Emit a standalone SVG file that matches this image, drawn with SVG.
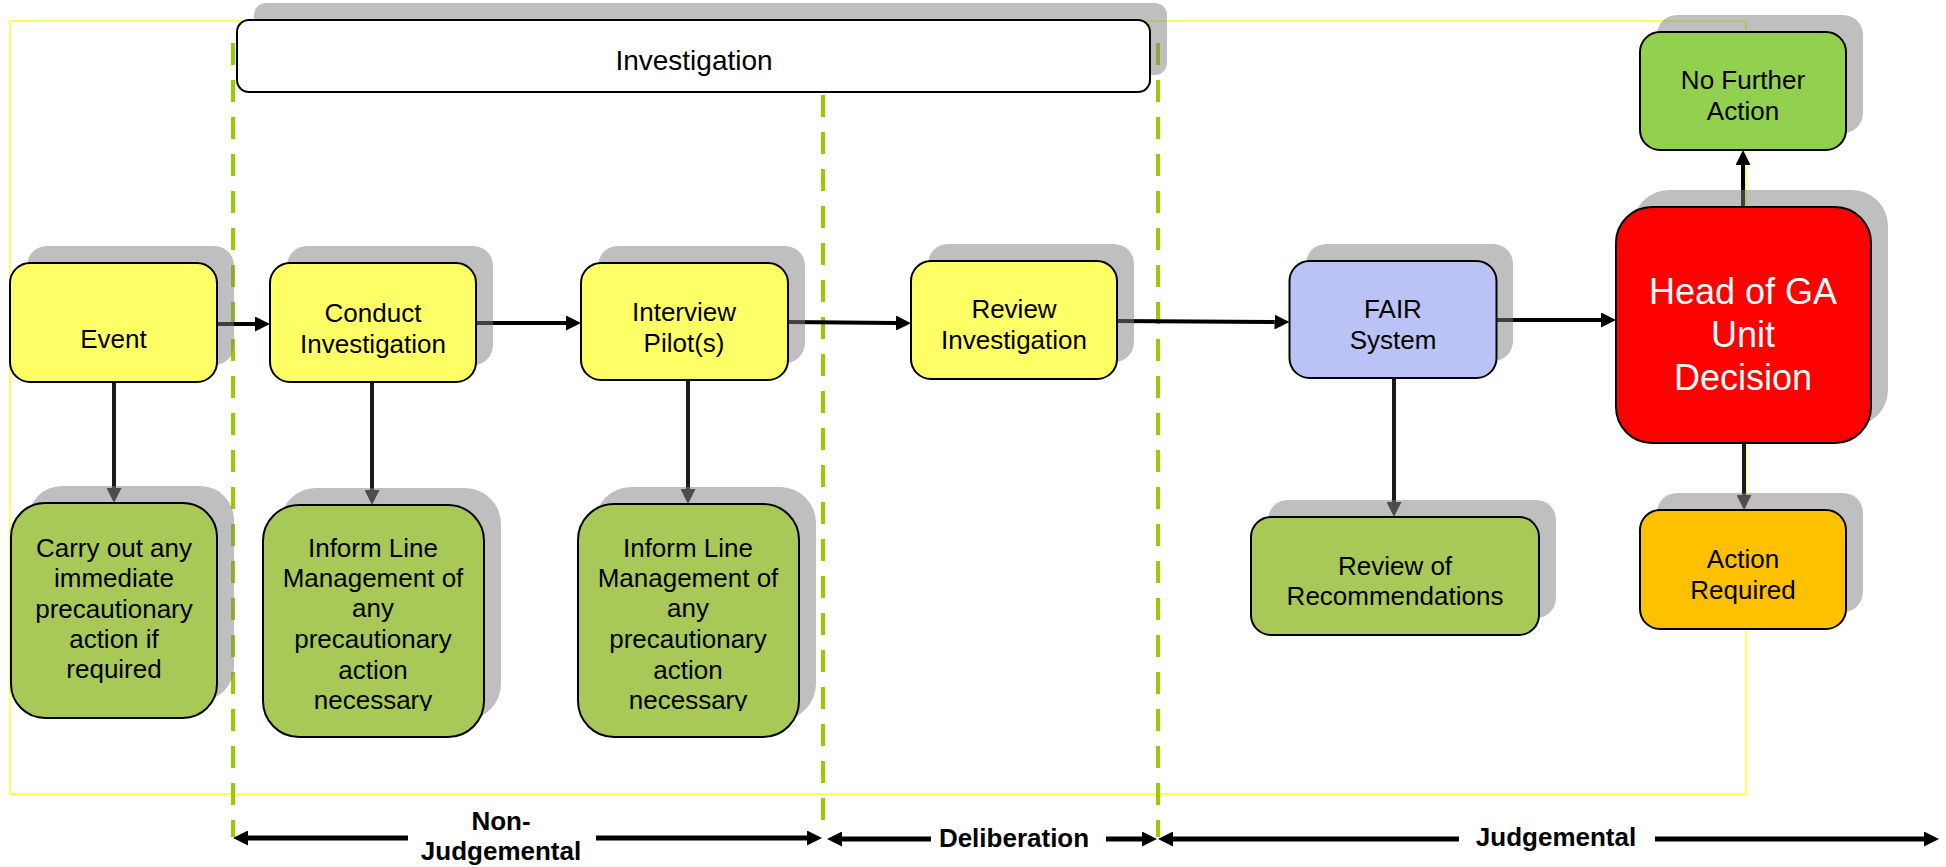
<svg xmlns="http://www.w3.org/2000/svg" width="1946" height="867" viewBox="0 0 1946 867">
<defs>
<style>
.sh{fill:#808080;fill-opacity:0.5}
.bx{stroke:#000;stroke-width:2}
.yel{fill:#FFFF66}
.grn{fill:#A8C957}
.lg{fill:#92D050}
.blu{fill:#BBC3F6}
.red{fill:#FF0000}
.org{fill:#FFC000}
.wht{fill:#FFFFFF}
.t{font-family:"Liberation Sans",Arial,sans-serif;font-size:26px;fill:#000;text-anchor:middle}
.tb{font-family:"Liberation Sans",Arial,sans-serif;font-size:26px;font-weight:bold;fill:#000;text-anchor:middle}
.th{font-family:"Liberation Sans",Arial,sans-serif;font-size:36px;fill:#FFF;text-anchor:middle}
.ti{font-family:"Liberation Sans",Arial,sans-serif;font-size:28px;fill:#000;text-anchor:middle}
.dash{stroke:#99CC00;stroke-width:4;stroke-dasharray:22 15;fill:none}
.con{stroke:#000;stroke-width:4;fill:none}
.cond{stroke:#1a1a1a;stroke-width:4;fill:none}
.tl{stroke:#000;stroke-width:5;fill:none}
</style>
<marker id="ah" viewBox="0 0 15 15" refX="0" refY="7.5" markerWidth="15" markerHeight="15" markerUnits="userSpaceOnUse" orient="auto">
<path d="M0,0 L15,7.5 L0,15 z" fill="#000"/>
</marker>
<marker id="ahd" viewBox="0 0 15 15" refX="0" refY="7.5" markerWidth="15" markerHeight="15" markerUnits="userSpaceOnUse" orient="auto">
<path d="M0,0 L15,7.5 L0,15 z" fill="#1a1a1a"/>
</marker>
<marker id="aht" viewBox="0 0 15 15" refX="0" refY="7.5" markerWidth="15" markerHeight="15" markerUnits="userSpaceOnUse" orient="auto">
<path d="M0,0 L15,7.5 L0,15 z" fill="#000"/>
</marker>
<clipPath id="clip1"><rect x="0" y="0" width="1946" height="711"/></clipPath>
</defs>
<rect x="0" y="0" width="1946" height="867" fill="#FFFFFF"/>

<g id="frame">
<rect x="10" y="21" width="1736" height="773" fill="none" stroke="#FFFF55" stroke-width="2"/>
</g>

<g id="phase-dividers">
<line class="dash" x1="233" y1="43" x2="233" y2="837"/>
<line class="dash" x1="823" y1="95" x2="823" y2="828"/>
<line class="dash" x1="1158" y1="43" x2="1158" y2="837"/>
</g>

<g id="timeline">
<path class="tl" d="M408,838 H248" marker-end="url(#aht)"/>
<path class="tl" d="M596,838 H807" marker-end="url(#aht)"/>
<path class="tl" d="M931,839 H842" marker-end="url(#aht)"/>
<path class="tl" d="M1106,839 H1142" marker-end="url(#aht)"/>
<path class="tl" d="M1459,839 H1173" marker-end="url(#aht)"/>
<path class="tl" d="M1655,839 H1924" marker-end="url(#aht)"/>
<text class="tb" x="501" y="830">Non-</text>
<text class="tb" x="501" y="860">Judgemental</text>
<text class="tb" x="1014" y="847">Deliberation</text>
<text class="tb" x="1556" y="846">Judgemental</text>
</g>

<g id="connectors">
<path class="con" d="M217,324 H255" marker-end="url(#ah)"/>
<path class="con" d="M476,323 H566" marker-end="url(#ah)"/>
<path class="con" d="M789,322 L896,323" marker-end="url(#ah)"/>
<path class="con" d="M1117,321 L1274.5,322" marker-end="url(#ah)"/>
<path class="con" d="M1496,320 H1601" marker-end="url(#ah)"/>
<path class="con" d="M1743,207 V165" marker-end="url(#ah)"/>
<path class="cond" d="M1744,443 V495" marker-end="url(#ahd)"/>
<path class="cond" d="M1394,378 V502" marker-end="url(#ahd)"/>
<path class="cond" d="M114,382 V488" marker-end="url(#ahd)"/>
<path class="cond" d="M372,382 V490" marker-end="url(#ahd)"/>
<path class="cond" d="M688,380 V489" marker-end="url(#ahd)"/>
</g>

<g id="investigation">
<rect class="sh" x="254" y="3" width="913" height="72" rx="12"/>
<rect class="bx wht" x="237" y="20" width="913" height="72" rx="12"/>
<text class="ti" x="694" y="70">Investigation</text>
</g>

<g id="event">
<rect class="sh" x="27" y="246" width="207" height="119" rx="20"/>
<rect class="bx yel" x="10" y="263" width="207" height="119" rx="20"/>
<text class="t" x="113.5" y="348">Event</text>
</g>

<g id="conduct">
<rect class="sh" x="287" y="246" width="206" height="119" rx="20"/>
<rect class="bx yel" x="270" y="263" width="206" height="119" rx="20"/>
<text class="t" x="373" y="322">Conduct</text>
<text class="t" x="373" y="353">Investigation</text>
</g>

<g id="interview">
<rect class="sh" x="598" y="246" width="207" height="117" rx="20"/>
<rect class="bx yel" x="581" y="263" width="207" height="117" rx="20"/>
<text class="t" x="684" y="321">Interview</text>
<text class="t" x="684" y="352">Pilot(s)</text>
</g>

<g id="review-investigation">
<rect class="sh" x="928" y="244" width="206" height="118" rx="20"/>
<rect class="bx yel" x="911" y="261" width="206" height="118" rx="20"/>
<text class="t" x="1014" y="318">Review</text>
<text class="t" x="1014" y="349">Investigation</text>
</g>

<g id="fair">
<rect class="sh" x="1306" y="244" width="207" height="117" rx="20"/>
<rect class="bx blu" x="1289.5" y="261" width="207" height="117" rx="20"/>
<text class="t" x="1393" y="318">FAIR</text>
<text class="t" x="1393" y="349">System</text>
</g>

<g id="head-decision">
<rect class="sh" x="1633" y="190" width="255" height="236" rx="36"/>
<rect class="bx red" x="1616" y="207" width="255" height="236" rx="36"/>
<text class="th" x="1743" y="304">Head of GA</text>
<text class="th" x="1743" y="347">Unit</text>
<text class="th" x="1743" y="390">Decision</text>
</g>

<g id="no-further-action">
<rect class="sh" x="1657" y="15" width="206" height="118" rx="20"/>
<rect class="bx lg" x="1640" y="32" width="206" height="118" rx="20"/>
<text class="t" x="1743" y="89">No Further</text>
<text class="t" x="1743" y="120">Action</text>
</g>

<g id="action-required">
<rect class="sh" x="1657" y="493" width="206" height="119" rx="20"/>
<rect class="bx org" x="1640" y="510" width="206" height="119" rx="20"/>
<text class="t" x="1743" y="568">Action</text>
<text class="t" x="1743" y="599">Required</text>
</g>

<g id="review-recommendations">
<rect class="sh" x="1268" y="500" width="288" height="118" rx="20"/>
<rect class="bx grn" x="1251" y="517" width="288" height="118" rx="20"/>
<text class="t" x="1395" y="575">Review of</text>
<text class="t" x="1395" y="605">Recommendations</text>
</g>

<g id="carry-out">
<rect class="sh" x="28" y="486" width="206" height="215" rx="34"/>
<rect class="bx grn" x="11" y="503" width="206" height="215" rx="34"/>
<text class="t" x="114" y="557">Carry out any</text>
<text class="t" x="114" y="587">immediate</text>
<text class="t" x="114" y="618">precautionary</text>
<text class="t" x="114" y="648">action if</text>
<text class="t" x="114" y="678">required</text>
</g>

<g id="inform-1">
<rect class="sh" x="280" y="488" width="221" height="232" rx="36"/>
<rect class="bx grn" x="263" y="505" width="221" height="232" rx="36"/>
<g clip-path="url(#clip1)">
<text class="t" x="373" y="557">Inform Line</text>
<text class="t" x="373" y="587">Management of</text>
<text class="t" x="373" y="617">any</text>
<text class="t" x="373" y="648">precautionary</text>
<text class="t" x="373" y="679">action</text>
<text class="t" x="373" y="709">necessary</text>
</g>
</g>

<g id="inform-2">
<rect class="sh" x="595" y="487" width="221" height="233" rx="36"/>
<rect class="bx grn" x="578" y="504" width="221" height="233" rx="36"/>
<g clip-path="url(#clip1)">
<text class="t" x="688" y="557">Inform Line</text>
<text class="t" x="688" y="587">Management of</text>
<text class="t" x="688" y="617">any</text>
<text class="t" x="688" y="648">precautionary</text>
<text class="t" x="688" y="679">action</text>
<text class="t" x="688" y="709">necessary</text>
</g>
</g>
</svg>
